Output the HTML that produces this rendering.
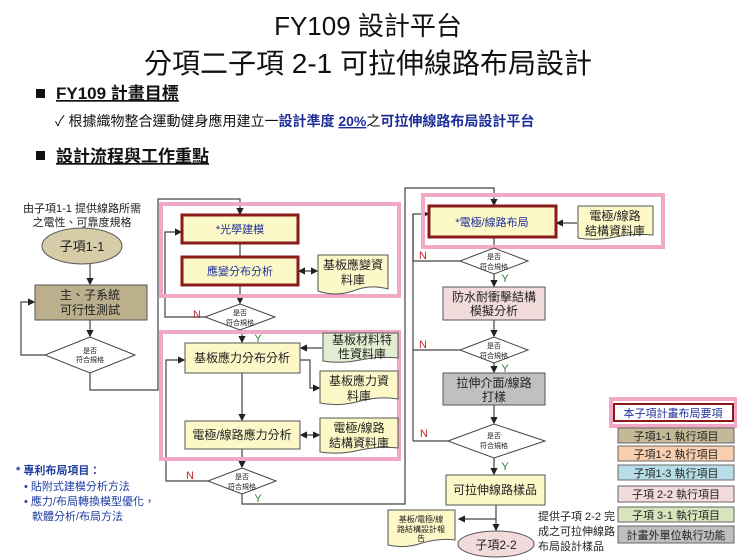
<!DOCTYPE html>
<html><head><meta charset="utf-8"><style>
body{margin:0;background:#fff;width:737px;height:558px;overflow:hidden}
svg{display:block;font-family:"Liberation Sans","Noto Sans CJK TC",sans-serif}
</style></head><body>
<svg width="737" height="558" viewBox="0 0 737 558" xmlns="http://www.w3.org/2000/svg">
<defs>
<marker id="a" markerWidth="6" markerHeight="6" refX="5" refY="3" orient="auto"><path d="M0,0 L6,3 L0,6z" fill="#222"/></marker>
<marker id="b" markerWidth="6" markerHeight="6" refX="1" refY="3" orient="auto"><path d="M6,0 L0,3 L6,6z" fill="#222"/></marker>
</defs>
<!-- header -->
<text x="368" y="35" font-size="26" text-anchor="middle" fill="#111">FY109 設計平台</text>
<text x="368" y="73" font-size="28" text-anchor="middle" fill="#111">分項二子項 2-1 可拉伸線路布局設計</text>
<rect x="36" y="89" width="9" height="9" fill="#111"/>
<text x="56" y="99" font-size="17" font-weight="bold" fill="#111" text-decoration="underline">FY109 計畫目標</text>
<text x="55" y="126" font-size="14" fill="#111">✓ 根據織物整合運動健身應用建立一<tspan fill="#1f2f9a" font-weight="bold">設計準度 <tspan text-decoration="underline">20%</tspan></tspan>之<tspan fill="#1f2f9a" font-weight="bold">可拉伸線路布局設計平台</tspan></text>
<rect x="36" y="151" width="9" height="9" fill="#111"/>
<text x="56" y="162" font-size="17" font-weight="bold" fill="#111" text-decoration="underline">設計流程與工作重點</text>

<g stroke="#444" stroke-width="1.2" fill="none">
<!-- left column lines -->
<line x1="90" y1="264" x2="90" y2="284" marker-end="url(#a)"/>
<line x1="90" y1="320" x2="90" y2="336" marker-end="url(#a)"/>
<polyline points="45,355 21,355 21,302 34,302" marker-end="url(#a)"/>
<polyline points="90,373 90,390 158,390 158,199 240,199 240,214" marker-end="url(#a)"/>
<!-- middle -->
<line x1="240" y1="243" x2="240" y2="257"/>
<line x1="240" y1="285" x2="240" y2="303" marker-end="url(#a)"/>
<line x1="299" y1="271" x2="317" y2="271" marker-start="url(#b)" marker-end="url(#a)"/>
<polyline points="205,317 165,317 165,232 181,232" marker-end="url(#a)"/>
<line x1="242" y1="330" x2="242" y2="342" marker-end="url(#a)"/>
<line x1="322" y1="348" x2="301" y2="348" marker-end="url(#a)"/>
<polyline points="300,360 310,360 310,388 319,388" marker-end="url(#a)"/>
<line x1="242" y1="373" x2="242" y2="420" marker-end="url(#a)"/>
<line x1="301" y1="435" x2="319" y2="435" marker-start="url(#b)" marker-end="url(#a)"/>
<line x1="242" y1="449" x2="242" y2="467" marker-end="url(#a)"/>
<polyline points="208,481 166,481 166,360 184,360" marker-end="url(#a)"/>
<polyline points="242,494 242,504 405,504 405,188 494,188 494,205" marker-end="url(#a)"/>
<!-- right -->
<line x1="577" y1="223" x2="557" y2="223" marker-end="url(#a)"/>
<line x1="494" y1="237" x2="494" y2="248"/>
<line x1="494" y1="274" x2="494" y2="286" marker-end="url(#a)"/>
<line x1="494" y1="320" x2="494" y2="336" marker-end="url(#a)"/>
<line x1="494" y1="363" x2="494" y2="372" marker-end="url(#a)"/>
<line x1="494" y1="405" x2="494" y2="423" marker-end="url(#a)"/>
<line x1="494" y1="458" x2="494" y2="474" marker-end="url(#a)"/>
<polyline points="460,261 413,261 413,214 428,214" marker-end="url(#a)"/>
<line x1="460" y1="350" x2="413" y2="350"/>
<line x1="448" y1="441" x2="413" y2="441"/>
<line x1="413" y1="214" x2="413" y2="441"/>
<line x1="496" y1="505" x2="496" y2="530" marker-end="url(#a)"/>
<line x1="496" y1="519" x2="459" y2="519" marker-end="url(#a)"/>
</g>

<!-- pink groups -->
<g fill="none" stroke="#f0a8c6" stroke-width="4">
<rect x="161" y="204" width="238" height="92"/>
<rect x="161" y="332" width="238" height="127"/>
<rect x="423" y="195" width="240" height="52"/>
<rect x="611" y="399" width="125" height="27"/>
</g>

<g font-size="12" text-anchor="middle" fill="#222">
<!-- left -->
<text x="82" y="212" font-size="11">由子項1-1 提供線路所需</text>
<text x="82" y="226" font-size="11">之電性、可靠度規格</text>
<ellipse cx="82" cy="246" rx="40" ry="18" fill="#d6cca8" stroke="#555"/>
<text x="82" y="251" font-size="13">子項1-1</text>
<rect x="35" y="285" width="112" height="35" fill="#bcb08c" stroke="#555"/>
<text x="90" y="299">主、子系統</text><text x="90" y="314">可行性測試</text>
<polygon points="45,355 90,337 135,355 90,373" fill="#fff" stroke="#444"/>
<text x="90" y="353" font-size="7">是否</text><text x="90" y="362" font-size="7">符合規格</text>

<rect x="182" y="215" width="116" height="28" fill="#fdf8c8" stroke="#8b1a1a" stroke-width="3"/>
<text x="240" y="233" fill="#1f2f9a" font-size="11">*光學建模</text>
<rect x="182" y="257" width="116" height="28" fill="#fdf8c8" stroke="#8b1a1a" stroke-width="3"/>
<text x="240" y="275" fill="#1f2f9a" font-size="11">應變分布分析</text>
<path d="M318,255 H388 V289 Q370,284 353,291 Q335,297 318,291 Z" fill="#fdf8c8" stroke="#555"/>
<text x="353" y="269">基板應變資</text><text x="353" y="284">料庫</text>
<polygon points="205,317 240,304 275,317 240,330" fill="#fff" stroke="#444"/>
<text x="240" y="315" font-size="7">是否</text><text x="240" y="325" font-size="7">符合規格</text>
<text x="197" y="318" fill="#c0282d" font-size="11">N</text>
<text x="258" y="342" fill="#2d7d32" font-size="11">Y</text>

<rect x="185" y="343" width="115" height="30" fill="#fdf8c8" stroke="#555"/>
<text x="242" y="362">基板應力分布分析</text>
<path d="M323,333 H398 V358 Q380,356 360,360 Q340,364 323,361 Z" fill="#e2ecd0" stroke="#555"/>
<text x="362" y="344">基板材料特</text><text x="362" y="358">性資料庫</text>
<path d="M320,371 H398 V399 Q380,396 360,401 Q340,407 320,403 Z" fill="#fdf8c8" stroke="#555"/>
<text x="359" y="385">基板應力資</text><text x="359" y="400">料庫</text>
<rect x="185" y="421" width="115" height="28" fill="#fdf8c8" stroke="#555"/>
<text x="242" y="439">電極/線路應力分析</text>
<path d="M320,418 H398 V448 Q380,446 360,450 Q340,455 320,452 Z" fill="#fdf8c8" stroke="#555"/>
<text x="359" y="432">電極/線路</text><text x="359" y="447">結構資料庫</text>
<polygon points="208,481 242,468 276,481 242,494" fill="#fff" stroke="#444"/>
<text x="242" y="479" font-size="7">是否</text><text x="242" y="489" font-size="7">符合規格</text>
<text x="190" y="479" fill="#c0282d" font-size="11">N</text>
<text x="258" y="502" fill="#2d7d32" font-size="11">Y</text>

<!-- right -->
<rect x="429" y="206" width="127" height="31" fill="#fdf8c8" stroke="#8b1a1a" stroke-width="3"/>
<text x="492" y="226" fill="#1f2f9a" font-size="11">*電極/線路布局</text>
<path d="M578,206 H653 V235 Q635,233 615,237 Q595,241 578,238 Z" fill="#fdf8c8" stroke="#555"/>
<text x="615" y="220">電極/線路</text><text x="615" y="235">結構資料庫</text>
<polygon points="460,261 494,248 528,261 494,274" fill="#fff" stroke="#444"/>
<text x="494" y="259" font-size="7">是否</text><text x="494" y="269" font-size="7">符合規格</text>
<text x="423" y="259" fill="#c0282d" font-size="11">N</text>
<text x="505" y="282" fill="#2d7d32" font-size="11">Y</text>
<rect x="443" y="287" width="102" height="33" fill="#f2dcdb" stroke="#555"/>
<text x="494" y="301">防水耐衝擊結構</text><text x="494" y="315">模擬分析</text>
<polygon points="460,350 494,337 528,350 494,363" fill="#fff" stroke="#444"/>
<text x="494" y="348" font-size="7">是否</text><text x="494" y="358" font-size="7">符合規格</text>
<text x="423" y="348" fill="#c0282d" font-size="11">N</text>
<text x="505" y="372" fill="#2d7d32" font-size="11">Y</text>
<rect x="443" y="373" width="102" height="32" fill="#c0c0c0" stroke="#555"/>
<text x="494" y="387">拉伸介面/線路</text><text x="494" y="401">打樣</text>
<polygon points="448,441 494,424 545,441 494,458" fill="#fff" stroke="#444"/>
<text x="494" y="438" font-size="7">是否</text><text x="494" y="448" font-size="7">符合規格</text>
<text x="424" y="437" fill="#c0282d" font-size="11">N</text>
<text x="505" y="470" fill="#2d7d32" font-size="11">Y</text>
<rect x="446" y="475" width="99" height="30" fill="#fdf8c8" stroke="#555"/>
<text x="495" y="494">可拉伸線路樣品</text>
<path d="M388,510 H455 V540 Q440,538 422,543 Q405,549 388,545 Z" fill="#fdf8c8" stroke="#555"/>
<text x="421" y="522" font-size="8">基板/電極/線</text><text x="421" y="532" font-size="8">路結構設計報</text><text x="421" y="541" font-size="8">告</text>
<ellipse cx="496" cy="544" rx="38" ry="13" fill="#f2dcdb" stroke="#555"/>
<text x="496" y="549">子項2-2</text>
<g text-anchor="start" font-size="11"><text x="538" y="520">提供子項 2-2 完</text><text x="538" y="535">成之可拉伸線路</text><text x="538" y="550">布局設計樣品</text></g>

<!-- legend -->
<rect x="614" y="404" width="119" height="17" fill="#fff" stroke="#8b1a1a" stroke-width="2"/>
<text x="673" y="417" fill="#1f2f9a" font-size="11">本子項計畫布局要項</text>
<g font-size="11" stroke="#666">
<rect x="618" y="428" width="116" height="15" fill="#c4b996"/>
<rect x="618" y="446" width="116" height="15" fill="#f9cfaf"/>
<rect x="618" y="465" width="116" height="15" fill="#b7dde8"/>
<rect x="618" y="486" width="116" height="16" fill="#f2dcdb"/>
<rect x="618" y="507" width="116" height="15" fill="#d7e4bc"/>
<rect x="618" y="526" width="116" height="17" fill="#bfbfbf"/>
</g>
<g font-size="11">
<text x="676" y="440">子項1-1 執行項目</text>
<text x="676" y="458">子項1-2 執行項目</text>
<text x="676" y="477">子項1-3 執行項目</text>
<text x="676" y="498">子項 2-2 執行項目</text>
<text x="676" y="519">子項 3-1 執行項目</text>
<text x="676" y="539">計畫外單位執行功能</text>
</g>
</g>
<!-- footnote -->
<g font-size="11" fill="#1f3ea0">
<text x="16" y="474" font-weight="bold">* 專利布局項目：</text>
<text x="24" y="490">• 貼附式建模分析方法</text>
<text x="24" y="505">• 應力/布局轉換模型優化，</text>
<text x="32" y="520">軟體分析/布局方法</text>
</g>
</svg>
</body></html>
